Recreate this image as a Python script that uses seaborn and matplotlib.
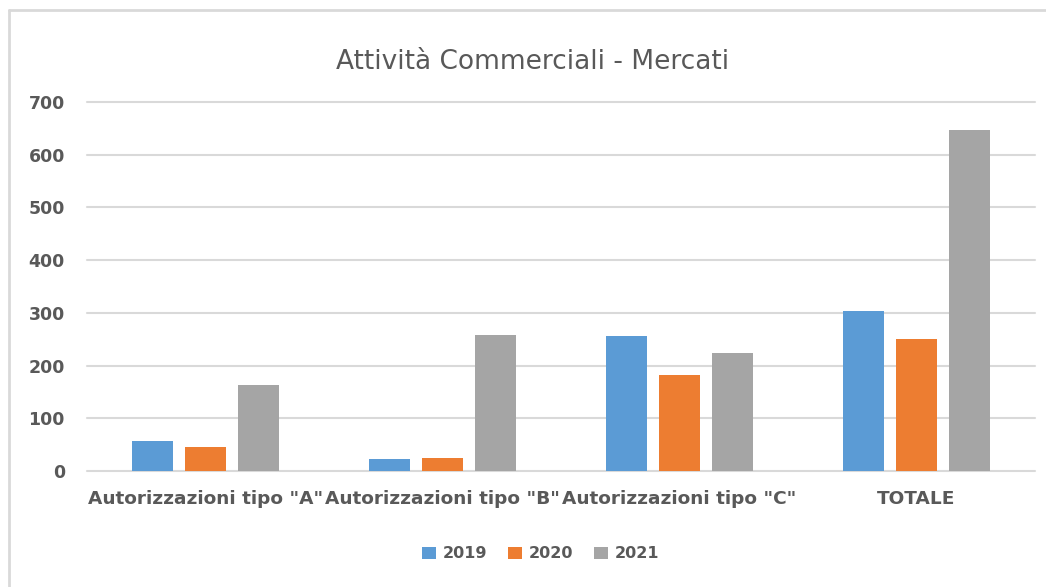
import matplotlib
matplotlib.use("Agg")
import matplotlib.pyplot as plt
import seaborn as sns
import pandas as pd
from matplotlib.patches import Patch
from matplotlib.lines import Line2D

categories = ['Autorizzazioni tipo "A"', 'Autorizzazioni tipo "B"', 'Autorizzazioni tipo "C"', 'TOTALE']
years = ['2019', '2020', '2021']
v2019 = [56, 22, 256, 303]
v2020 = [46, 24, 182, 250]
v2021 = [164, 258, 223, 647]
colors = ['#5B9BD5', '#ED7D31', '#A5A5A5']
yticks = [0, 100, 200, 300, 400, 500, 600, 700]

df = pd.DataFrame({
    'categoria': categories * 3,
    'anno': [years[0]] * 4 + [years[1]] * 4 + [years[2]] * 4,
    'valore': v2019 + v2020 + v2021,
})

sns.set_theme(style='white')
plt.rcParams['font.family'] = ['DejaVu Sans']
text_col = '#595959'
grid_col = '#D9D9D9'

fig = plt.figure(figsize=(10.46, 5.87), dpi=100)
ax = fig.add_axes([87 / 1046, 1 - 471 / 587, (1035 - 87) / 1046, (471 - 102) / 587])

sns.barplot(data=df, x='categoria', y='valore', hue='anno', order=categories,
            hue_order=years, palette=colors, width=0.665, gap=0.22,
            saturation=1, ax=ax, legend=False, linewidth=0, edgecolor='none')

ax.set_ylim(0, 700)
ax.set_xlim(-0.5, 3.5)
ax.set_yticks(yticks)
ax.set_yticklabels([str(t) for t in yticks])
ax.yaxis.grid(True, color=grid_col, linewidth=1.5)
for gl in ax.get_ygridlines():
    gl.set_clip_on(False)
ax.set_axisbelow(True)
for s in ax.spines.values():
    s.set_visible(False)
ax.set_xlabel('')
ax.set_ylabel('')
ax.tick_params(axis='y', length=0, pad=16, labelsize=12.5, labelcolor=text_col)
ax.tick_params(axis='x', length=0, pad=14, labelsize=13.3, labelcolor=text_col)
for lbl in ax.get_yticklabels() + ax.get_xticklabels():
    lbl.set_fontweight('bold')

fig.text(533 / 1046, 1 - 62 / 587, 'Attività Commerciali - Mercati', ha='center', va='center',
         fontsize=19, color=text_col)

handles = [Patch(facecolor=c, edgecolor='none') for c in colors]
leg = fig.legend(handles, years, loc='center', bbox_to_anchor=(541 / 1046, 1 - 554 / 587),
                 ncol=3, frameon=False, handlelength=0.85, handleheight=0.85,
                 handletextpad=0.45, columnspacing=1.3, fontsize=11.5)
for t in leg.get_texts():
    t.set_color(text_col)
    t.set_fontweight('bold')

# figure border (top and left visible)
fig.add_artist(Line2D([9 / 1046, 1.0], [1 - 10 / 587, 1 - 10 / 587], transform=fig.transFigure,
                      color=grid_col, linewidth=2))
fig.add_artist(Line2D([9 / 1046, 9 / 1046], [0.0, 1 - 10 / 587], transform=fig.transFigure,
                      color=grid_col, linewidth=2))

fig.savefig('out.png', dpi=100, facecolor='white')
